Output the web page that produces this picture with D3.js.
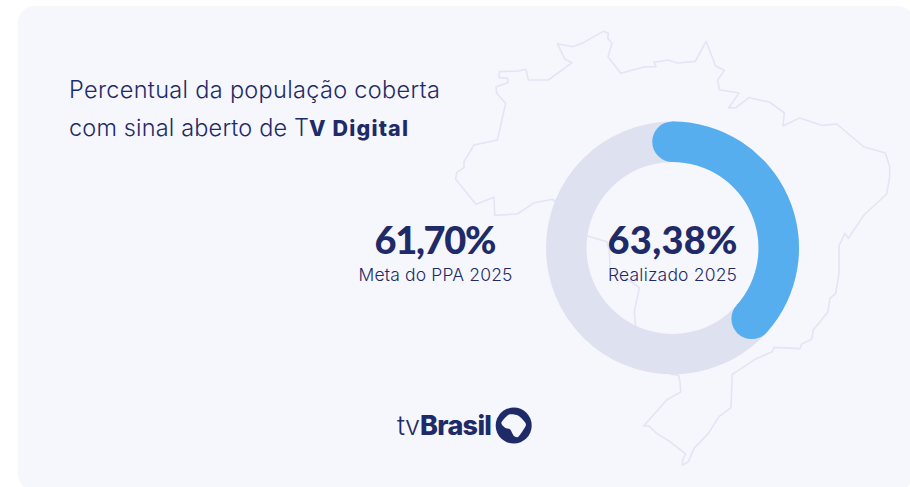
<!DOCTYPE html>
<html lang="pt-BR">
<head>
<meta charset="utf-8">
<script src="https://cdn.jsdelivr.net/npm/d3@7"></script>
<style>
html,body{margin:0;padding:0;background:#fff;}
svg{display:block;}
text{font-family:Inter,Lato,sans-serif;fill:#1f2a68;}
.num{font-family:Lato,Inter,sans-serif;font-weight:900;font-size:38px;}
</style>
</head>
<body>
<div id="chart"></div>
<script>
const realizedValue = 63.38;
const realizedLabel = "63,38%";
const realizedCaption = "Realizado 2025";
const targetLabel = "61,70%";
const targetCaption = "Meta do PPA 2025";
const titleLine1 = "Percentual da população coberta";
const titleLine2 = "com sinal aberto de T";
const titleLine2Bold = "V Digital";
const logoLight = "tv";
const logoBold = "Brasil";

// Brazil outline (map units)
const outlineTop = [[178,155],[235,153],[258,148],[265,180],[325,180],[396,128],[375,118],[352,71],[398,80],[430,68],[490,34],[505,40],[503,55],[516,70],[504,110],[542,160],[612,141],[648,140],[642,127],[685,120],[713,129],[766,124],[798,64],[827,138],[853,151],[833,180],[838,209],[897,219],[866,264],[888,263],[927,233],[990,247],[1033,279],[1029,318],[1079,294],[1145,316],[1190,312],[1272,381],[1336,399],[1349,440],[1349,470],[1340,522],[1272,585],[1225,655],[1215,640],[1198,675],[1197,690]];
const outlineBottom = [[1197,760],[1187,820],[1170,835],[1163,877],[1120,930],[1115,958],[1085,972],[1080,986],[1002,982],[997,995],[945,1018],[877,1063],[875,1110],[873,1163],[837,1190],[805,1240],[762,1285],[745,1325],[727,1336],[728,1320],[737,1302],[690,1265],[650,1240],[627,1218],[611,1218],[680,1140],[722,1116],[720,1085],[715,1065],[695,1063],[587,922],[583,875],[598,803],[570,783],[510,745],[508,690],[500,665],[440,647],[338,538],[283,548],[232,582],[164,586],[162,532],[108,553],[47,478],[50,458],[72,443],[72,425],[102,375],[172,360],[197,250],[170,220],[168,200],[204,188],[203,175],[177,173]];
// Brazil-shaped hole of the logo badge
const logoHole = [[34,68],[56,44],[85,47],[106,68],[106,80],[85,110],[72,108],[60,88],[45,83]];

const W = 910, H = 487;
const navy = "#1f2a68", card = "#f5f7fd";
const svg = d3.select("#chart").append("svg").attr("width", W).attr("height", H);

svg.append("rect").attr("x",18).attr("y",6).attr("width",896).attr("height",484).attr("rx",16).attr("fill",card);

const mapX = d3.scaleLinear().domain([0,1410]).range([440,910]);
const mapY = d3.scaleLinear().domain([0,1410]).range([20,490]);
svg.append("path")
  .attr("d", d3.line().x(d=>mapX(d[0])).y(d=>mapY(d[1])).curve(d3.curveLinearClosed)(outlineTop.concat(outlineBottom)))
  .attr("fill","none").attr("stroke","#e2e5f3").attr("stroke-width",1.6).attr("stroke-linejoin","round");

const cx = 672.5, cy = 248, rOut = 126.5, rIn = 86;
const rMid = (rIn+rOut)/2, rCap = (rOut-rIn)/2;
const g = svg.append("g").attr("transform",`translate(${cx},${cy})`);
g.append("path").attr("d", d3.arc()({innerRadius:rIn,outerRadius:rOut,startAngle:0,endAngle:2*Math.PI})).attr("fill","#dee1ef");
const angle = d3.scaleLinear().domain([0,100]).range([2*Math.PI,0]);
const endA = angle(realizedValue);
g.append("path").attr("d", d3.arc()({innerRadius:rIn,outerRadius:rOut,startAngle:0,endAngle:endA})).attr("fill","#57aeef");
g.selectAll("circle.cap").data([0,endA]).join("circle").attr("class","cap")
  .attr("cx",a=>Math.sin(a)*rMid).attr("cy",a=>-Math.cos(a)*rMid).attr("r",rCap).attr("fill","#57aeef");

const title = svg.append("g").attr("font-size",23.5).attr("font-weight",300);
title.append("text").attr("x",69).attr("y",98).attr("textLength",371).text(titleLine1);
title.append("text").attr("x",69).attr("y",136).attr("textLength",240).text(titleLine2);
title.append("text").attr("x",309).attr("y",136).attr("font-weight",800).attr("font-size",21.5).attr("textLength",99).text(titleLine2Bold);

const labels = svg.append("g").attr("text-anchor","middle");
labels.append("text").attr("class","num").attr("x",435.5).attr("y",254).attr("textLength",122).text(targetLabel);
labels.append("text").attr("x",435.5).attr("y",281).attr("font-size",17.5).attr("font-weight",300).attr("textLength",154).text(targetCaption);
labels.append("text").attr("class","num").attr("x",672.5).attr("y",254).attr("textLength",130).text(realizedLabel);
labels.append("text").attr("x",672.5).attr("y",281).attr("font-size",17.5).attr("font-weight",300).attr("textLength",129).text(realizedCaption);

svg.append("text").attr("x",397).attr("y",435).attr("font-size",27).attr("font-weight",300).attr("textLength",23).text(logoLight);
svg.append("text").attr("x",420).attr("y",435).attr("font-size",27).attr("font-weight",800).attr("textLength",72).text(logoBold);
svg.append("circle").attr("cx",513.7).attr("cy",425.5).attr("r",18).attr("fill",navy);
const holeX = d3.scaleLinear().domain([0,150]).range([490,540]);
const holeY = d3.scaleLinear().domain([0,150]).range([400,450]);
svg.append("path").attr("d", d3.line().x(d=>holeX(d[0])).y(d=>holeY(d[1])).curve(d3.curveCardinalClosed.tension(0.3))(logoHole)).attr("fill",card);
</script>
</body>
</html>
